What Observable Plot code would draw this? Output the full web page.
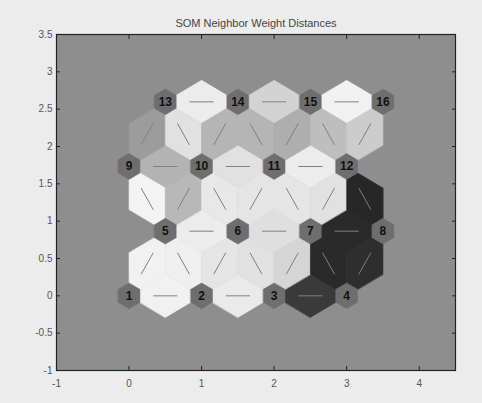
<!DOCTYPE html>
<html><head><meta charset="utf-8">
<script src="https://cdn.jsdelivr.net/npm/d3@7"></script>
<script src="https://cdn.jsdelivr.net/npm/@observablehq/plot@0.6"></script>
<style>
html,body{margin:0;padding:0;background:#ececec;}
#chart{width:482px;height:403px;}
</style>
</head><body><div id="chart"></div>
<script>
// ---- data ----
const title = "SOM Neighbor Weight Distances";
const neuronIds = [1,2,3,4,5,6,7,8,9,10,11,12,13,14,15,16];
const neuronX = [0,1,2,3, 0.5,1.5,2.5,3.5, 0,1,2,3, 0.5,1.5,2.5,3.5];
const neuronY = [0,0,0,0, 0.866,0.866,0.866,0.866, 1.732,1.732,1.732,1.732, 2.598,2.598,2.598,2.598];
const edgeFrom = [1,2,3, 5,6,7, 9,10,11, 13,14,15, 1,2,2,3,3,4,4, 5,5,6,6,7,7,8, 9,10,10,11,11,12,12];
const edgeTo   = [2,3,4, 6,7,8, 10,11,12, 14,15,16, 5,5,6,6,7,7,8, 9,10,10,11,11,12,12, 13,13,14,14,15,15,16];
// normalized neighbor distance (0 = close / white, 1 = far / black)
const edgeDist = [0.04,0.07,0.84, 0.06,0.12,0.91, 0.31,0.11,0.06, 0.06,0.17,0.04,
                  0.04,0.05,0.09,0.11,0.16,0.91,0.89,
                  0.03,0.29,0.08,0.09,0.09,0.11,0.92,
                  0.41,0.11,0.30,0.30,0.33,0.26,0.20];
const xTicks = [-1,0,1,2,3,4];
const yTicks = [-1,-0.5,0,0.5,1,1.5,2,2.5,3,3.5];

// ---- derived geometry (MATLAB plotsomnd style) ----
const z = Math.sqrt(0.75) / 3;
const shapeX = [-1,0,1,1,0,-1].map(v => v * 0.5 * 0.3);
const shapeY = [1,2,1,-1,-2,-1].map(v => v * z * 0.3);
const neurons = neuronIds.map((id, i) => ({id, x: neuronX[i], y: neuronY[i]}));
const neuronPoly = neurons.flatMap(n => shapeX.map((sx, k) => ({id: n.id, x: n.x + sx, y: n.y + shapeY[k]})));
const edges = edgeFrom.map((a, i) => {
  const p = neurons[a - 1], q = neurons[edgeTo[i] - 1];
  return {id: i, d: edgeDist[i], x1: p.x, y1: p.y, x2: q.x, y2: q.y};
});
const edgePoly = edges.flatMap(e => {
  const mx = (e.x1 + e.x2) / 2, my = (e.y1 + e.y2) / 2;
  const dx = e.x2 - e.x1, dy = e.y2 - e.y1, L = Math.hypot(dx, dy);
  const ux = dx / L, uy = dy / L, vx = -uy, vy = ux;
  return [
    {id: e.id, d: e.d, x: mx - 0.5 * L * ux, y: my - 0.5 * L * uy},
    {id: e.id, d: e.d, x: mx + z * vx, y: my + z * vy},
    {id: e.id, d: e.d, x: mx + 0.5 * L * ux, y: my + 0.5 * L * uy},
    {id: e.id, d: e.d, x: mx - z * vx, y: my - z * vy}
  ];
});
const edgeLines = edges.map(e => ({
  x1: (2 * e.x1 + e.x2) / 3, y1: (2 * e.y1 + e.y2) / 3,
  x2: (e.x1 + 2 * e.x2) / 3, y2: (e.y1 + 2 * e.y2) / 3
}));

const fmt = d => String(d);
const chart = Plot.plot({
  width: 482, height: 403,
  marginLeft: 56, marginRight: 27, marginTop: 34, marginBottom: 33,
  x: {domain: [-1, 4.5]},
  y: {domain: [-1, 3.5]},
  color: {type: "linear", domain: [0, 1], range: ["#fafafa", "#151515"]},
  style: {background: "transparent", fontFamily: "'Liberation Sans', Arial, sans-serif", fontSize: "10px", color: "#555"},
  marks: [
    Plot.frame({fill: "#8e8e8e", stroke: null}),
    Plot.line(edgePoly, {x: "x", y: "y", z: "id", fill: "d", stroke: "d", strokeWidth: 0.6, curve: "linear-closed"}),
    Plot.link(edgeLines, {x1: "x1", y1: "y1", x2: "x2", y2: "y2", stroke: "#808080", strokeWidth: 1}),
    Plot.line(neuronPoly, {x: "x", y: "y", z: "id", fill: "#6e6e6e", stroke: "#6e6e6e", strokeWidth: 0.5, curve: "linear-closed"}),
    Plot.text(neurons, {x: "x", y: "y", text: "id", fontWeight: "bold", fontSize: 12, fill: "#111"}),
    Plot.axisX(xTicks, {anchor: "bottom", tickSize: 0, tickPadding: 9, tickFormat: fmt, color: "#555"}),
    Plot.axisY(yTicks, {anchor: "left", tickSize: 0, tickPadding: 4, tickFormat: fmt, color: "#555"}),
    Plot.axisX(xTicks, {anchor: "bottom", tickSize: -4, tickFormat: () => "", color: "#222"}),
    Plot.axisX(xTicks, {anchor: "top", tickSize: -4, tickFormat: () => "", color: "#222"}),
    Plot.axisY(yTicks, {anchor: "left", tickSize: -4, tickFormat: () => "", color: "#222"}),
    Plot.axisY(yTicks, {anchor: "right", tickSize: -4, tickFormat: () => "", color: "#222"}),
    Plot.frame({stroke: "#222", strokeWidth: 1.2}),
    Plot.text([title], {frameAnchor: "top", dy: -15, fontSize: 11, fill: "#444"})
  ]
});
document.getElementById("chart").appendChild(chart);
</script>
</body></html>
